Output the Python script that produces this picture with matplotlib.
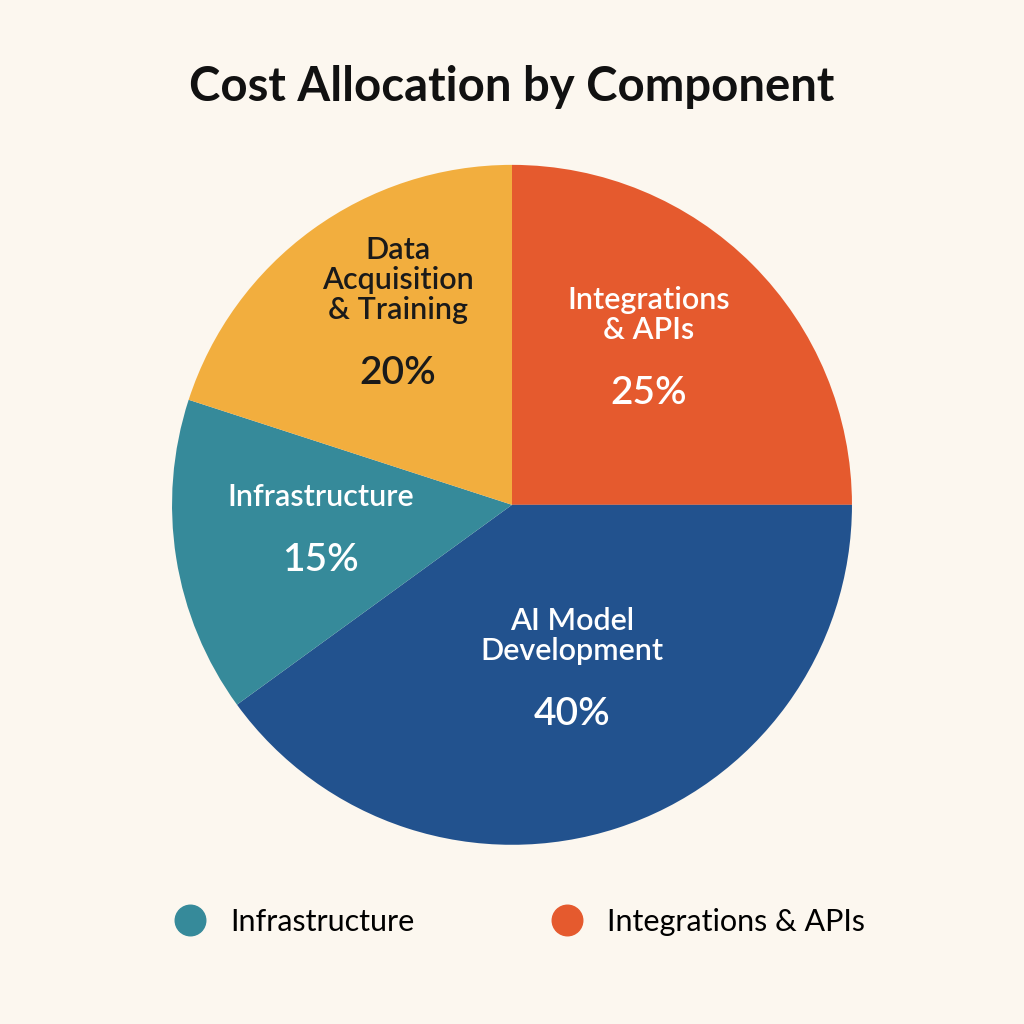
import numpy as np
import matplotlib.pyplot as plt
from matplotlib.lines import Line2D

labels = ['Integrations\n& APIs', 'AI Model\nDevelopment', 'Infrastructure', 'Data\nAcquisition\n& Training']
values = [25, 40, 15, 20]
colors = ['#E55A2E', '#22528E', '#368A9A', '#F2AE3E']
text_colors = ['white', 'white', 'white', '#1a1a1a']
legend_names = ['Infrastructure', 'Integrations & APIs']
legend_colors = ['#368A9A', '#E55A2E']

bg = '#FCF7EF'
fig = plt.figure(figsize=(10.24, 10.24), dpi=100, facecolor=bg)
ax = fig.add_axes([0.5 - 0.332, 0.507 - 0.332, 0.664, 0.664])
ax.set_facecolor(bg)

wedges, _ = ax.pie(values, colors=colors, startangle=90, counterclock=False,
                   radius=1.0, wedgeprops=dict(linewidth=0))
ax.set_xlim(-1, 1)
ax.set_ylim(-1, 1)
ax.set_aspect('equal')

for w, lab, v, tc in zip(wedges, labels, values, text_colors):
    ang = np.deg2rad((w.theta1 + w.theta2) / 2)
    x, y = 0.57 * np.cos(ang), 0.57 * np.sin(ang)
    ax.text(x, y + 0.07, lab, ha='center', va='bottom', fontsize=22,
            color=tc, family='Lato', fontweight='semibold', linespacing=1.1)
    ax.text(x, y - 0.02, f'{v}%', ha='center', va='top', fontsize=28,
            color=tc, family='Lato', fontweight='semibold')

fig.text(0.5, 0.915, 'Cost Allocation by Component', ha='center', va='center',
         fontsize=34, fontweight='bold', family='Lato', color='#111111')

handles = [Line2D([], [], marker='o', linestyle='', markersize=22,
                  markerfacecolor=c, markeredgecolor=c) for c in legend_colors]
fig.legend(handles, legend_names, loc='center', bbox_to_anchor=(0.5, 0.1),
           ncol=2, frameon=False, columnspacing=4, handletextpad=0.3,
           prop={'family': 'Lato', 'size': 22})

fig.savefig('out.png', dpi=100, facecolor=bg)
